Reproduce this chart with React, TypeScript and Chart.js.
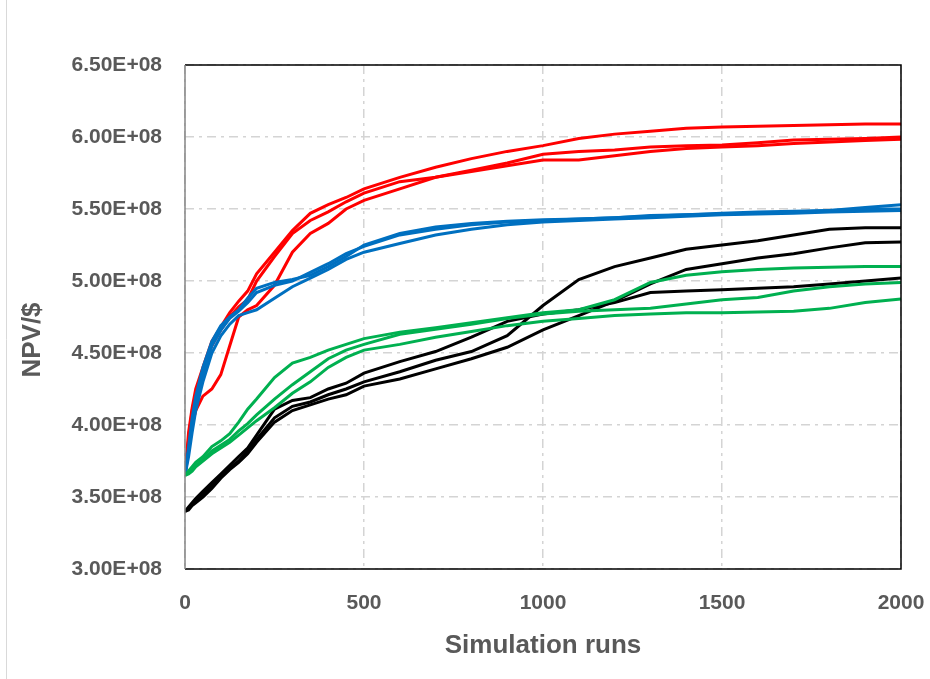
import React, { useEffect, useRef } from "react";
import { Chart, registerables } from "chart.js";

Chart.register(...registerables);

// Simulation runs (x positions of sampled points)
const runs = [0, 10, 20, 30, 50, 75, 100, 125, 150, 175, 200, 250, 300, 350, 400, 450, 500, 600, 700, 800, 900, 1000, 1100, 1200, 1300, 1400, 1500, 1600, 1700, 1800, 1900, 2000];

// NPV values in units of 1E+08 $
const red1 = [3.65, 3.95, 4.12, 4.25, 4.40, 4.58, 4.68, 4.78, 4.86, 4.93, 5.05, 5.20, 5.35, 5.47, 5.53, 5.58, 5.64, 5.72, 5.79, 5.85, 5.90, 5.94, 5.99, 6.02, 6.04, 6.06, 6.07, 6.075, 6.08, 6.085, 6.09, 6.09];
const red2 = [3.65, 3.90, 4.10, 4.22, 4.38, 4.55, 4.66, 4.75, 4.82, 4.87, 5.00, 5.17, 5.33, 5.42, 5.48, 5.55, 5.61, 5.69, 5.72, 5.77, 5.82, 5.88, 5.90, 5.91, 5.93, 5.94, 5.945, 5.96, 5.98, 5.985, 5.99, 6.00];
const red3 = [3.65, 3.85, 4.00, 4.10, 4.20, 4.25, 4.35, 4.55, 4.75, 4.80, 4.83, 4.97, 5.20, 5.33, 5.40, 5.50, 5.56, 5.64, 5.72, 5.76, 5.80, 5.84, 5.84, 5.87, 5.90, 5.92, 5.93, 5.94, 5.955, 5.965, 5.975, 5.985];

const blue1 = [3.65, 3.85, 4.05, 4.20, 4.40, 4.58, 4.69, 4.75, 4.80, 4.88, 4.95, 4.99, 5.01, 5.04, 5.10, 5.17, 5.25, 5.33, 5.375, 5.40, 5.415, 5.425, 5.43, 5.44, 5.45, 5.46, 5.465, 5.47, 5.48, 5.49, 5.51, 5.53];
const blue2 = [3.65, 3.82, 4.00, 4.15, 4.35, 4.55, 4.66, 4.74, 4.79, 4.85, 4.92, 4.97, 5.00, 5.06, 5.12, 5.19, 5.24, 5.32, 5.36, 5.39, 5.41, 5.42, 5.43, 5.44, 5.455, 5.46, 5.47, 5.48, 5.485, 5.49, 5.50, 5.50];
const blue3 = [3.65, 3.78, 3.95, 4.10, 4.30, 4.50, 4.62, 4.70, 4.76, 4.78, 4.80, 4.88, 4.96, 5.02, 5.08, 5.15, 5.20, 5.26, 5.32, 5.36, 5.39, 5.41, 5.42, 5.43, 5.44, 5.45, 5.46, 5.465, 5.47, 5.48, 5.485, 5.49];

const green1 = [3.65, 3.68, 3.71, 3.74, 3.78, 3.85, 3.89, 3.94, 4.02, 4.11, 4.18, 4.33, 4.43, 4.47, 4.52, 4.56, 4.60, 4.645, 4.675, 4.71, 4.745, 4.78, 4.80, 4.87, 4.99, 5.04, 5.065, 5.08, 5.09, 5.095, 5.10, 5.10];
const green2 = [3.65, 3.67, 3.70, 3.72, 3.76, 3.82, 3.86, 3.90, 3.96, 4.01, 4.07, 4.18, 4.28, 4.37, 4.46, 4.52, 4.56, 4.63, 4.665, 4.70, 4.74, 4.77, 4.79, 4.80, 4.81, 4.84, 4.87, 4.885, 4.93, 4.96, 4.98, 4.99];
const green3 = [3.65, 3.66, 3.68, 3.71, 3.75, 3.80, 3.84, 3.88, 3.93, 3.98, 4.03, 4.12, 4.22, 4.30, 4.40, 4.47, 4.52, 4.56, 4.61, 4.65, 4.69, 4.72, 4.74, 4.76, 4.77, 4.78, 4.78, 4.785, 4.79, 4.81, 4.85, 4.875];

const black1 = [3.40, 3.42, 3.45, 3.47, 3.52, 3.58, 3.65, 3.70, 3.75, 3.82, 3.90, 4.05, 4.13, 4.16, 4.21, 4.25, 4.30, 4.37, 4.45, 4.51, 4.62, 4.83, 5.01, 5.10, 5.16, 5.22, 5.25, 5.28, 5.32, 5.36, 5.37, 5.37];
const black2 = [3.40, 3.41, 3.44, 3.46, 3.50, 3.56, 3.63, 3.69, 3.74, 3.80, 3.88, 4.02, 4.10, 4.14, 4.18, 4.21, 4.27, 4.32, 4.39, 4.46, 4.54, 4.66, 4.76, 4.86, 4.98, 5.08, 5.12, 5.16, 5.19, 5.23, 5.265, 5.27];
const black3 = [3.40, 3.43, 3.46, 3.49, 3.54, 3.60, 3.66, 3.72, 3.78, 3.84, 3.93, 4.11, 4.17, 4.19, 4.25, 4.29, 4.36, 4.44, 4.51, 4.61, 4.72, 4.77, 4.80, 4.85, 4.92, 4.93, 4.94, 4.95, 4.96, 4.98, 5.00, 5.02];

const xTitle = "Simulation runs";
const yTitle = "NPV/$";
const yMin = 3.0;
const yMax = 6.5;
const yStep = 0.5;
const xMin = 0;
const xMax = 2000;
const xStep = 500;

const RED = "#ff0000";
const BLUE = "#0070c0";
const GREEN = "#00b050";
const BLACK = "#000000";
const TEXT = "#595959";
const FONT = "'Liberation Sans', Arial, sans-serif";

export default function App() {
  const ref = useRef<HTMLCanvasElement | null>(null);

  useEffect(() => {
    if (!ref.current) return;
    const mk = (vals: number[], color: string) => ({
      data: runs.map((x, i) => ({ x, y: vals[i] })),
      borderColor: color,
      backgroundColor: color,
      borderWidth: 3,
      pointRadius: 0,
      tension: 0,
      fill: false,
    });

    const framePlugin = {
      id: "frame",
      beforeDraw(chart: any) {
        const ctx = chart.ctx;
        ctx.save();
        ctx.fillStyle = "#ffffff";
        ctx.fillRect(0, 0, chart.width, chart.height);
        ctx.strokeStyle = "#d9d9d9";
        ctx.lineWidth = 1;
        ctx.beginPath();
        ctx.moveTo(6.5, 0);
        ctx.lineTo(6.5, chart.height);
        ctx.stroke();
        ctx.restore();
      },
      afterDraw(chart: any) {
        const { left, right, top, bottom } = chart.chartArea;
        const ctx = chart.ctx;
        ctx.save();
        ctx.lineWidth = 1.5;
        ctx.strokeStyle = "#000000";
        ctx.beginPath();
        ctx.moveTo(left, top);
        ctx.lineTo(right, top);
        ctx.lineTo(right, bottom);
        ctx.lineTo(left, bottom);
        ctx.stroke();
        ctx.strokeStyle = "#858585";
        ctx.beginPath();
        ctx.moveTo(left, top);
        ctx.lineTo(left, bottom);
        ctx.stroke();
        // y axis title
        ctx.translate(33, 340);
        ctx.rotate(-Math.PI / 2);
        ctx.fillStyle = TEXT;
        ctx.font = `bold 26px ${FONT}`;
        ctx.textAlign = "center";
        ctx.textBaseline = "middle";
        ctx.fillText(yTitle, 0, 0);
        ctx.restore();
      },
    };

    const chart = new Chart(ref.current, {
      type: "line",
      data: {
        datasets: [
          mk(green1, GREEN), mk(green2, GREEN), mk(green3, GREEN),
          mk(black1, BLACK), mk(black2, BLACK), mk(black3, BLACK),
          mk(blue1, BLUE), mk(blue2, BLUE), mk(blue3, BLUE),
          mk(red1, RED), mk(red2, RED), mk(red3, RED),
        ],
      },
      options: {
        animation: false,
        responsive: false,
        layout: { padding: { left: 0, right: 29, top: 65, bottom: 0 } },
        plugins: {
          legend: { display: false },
          tooltip: { enabled: false },
        },
        scales: {
          x: {
            type: "linear",
            min: xMin,
            max: xMax,
            afterFit: (s: any) => { s.height = 110; s.paddingLeft = 0; s.paddingRight = 0; },
            ticks: {
              stepSize: xStep,
              padding: 22,
              color: TEXT,
              font: { family: FONT, size: 21, weight: "bold" },
              callback: (v: any) => String(v),
            },
            grid: { color: "#d4d4d4", lineWidth: 1.5, drawTicks: false },
            border: { display: false, dash: [9, 5, 3, 5] },
            title: {
              display: true,
              text: xTitle,
              color: TEXT,
              font: { family: FONT, size: 26, weight: "bold" },
              padding: { top: 0, bottom: 18 },
            },
          },
          y: {
            type: "linear",
            min: yMin,
            max: yMax,
            afterFit: (s: any) => { s.width = 185; s.paddingTop = 0; s.paddingBottom = 0; },
            ticks: {
              stepSize: yStep,
              padding: 23,
              color: TEXT,
              font: { family: FONT, size: 21, weight: "bold" },
              callback: (v: any) => Number(v).toFixed(2) + "E+08",
            },
            grid: { color: "#d4d4d4", lineWidth: 1.5, drawTicks: false },
            border: { display: false, dash: [9, 5, 3, 5] },
          },
        },
      },
      plugins: [framePlugin],
    } as any);

    return () => chart.destroy();
  }, []);

  return (
    <div style={{ position: "fixed", left: 0, top: 0, width: 930, height: 679, background: "#fff" }}>
      <canvas ref={ref} width={930} height={679} style={{ display: "block" }} />
    </div>
  );
}
